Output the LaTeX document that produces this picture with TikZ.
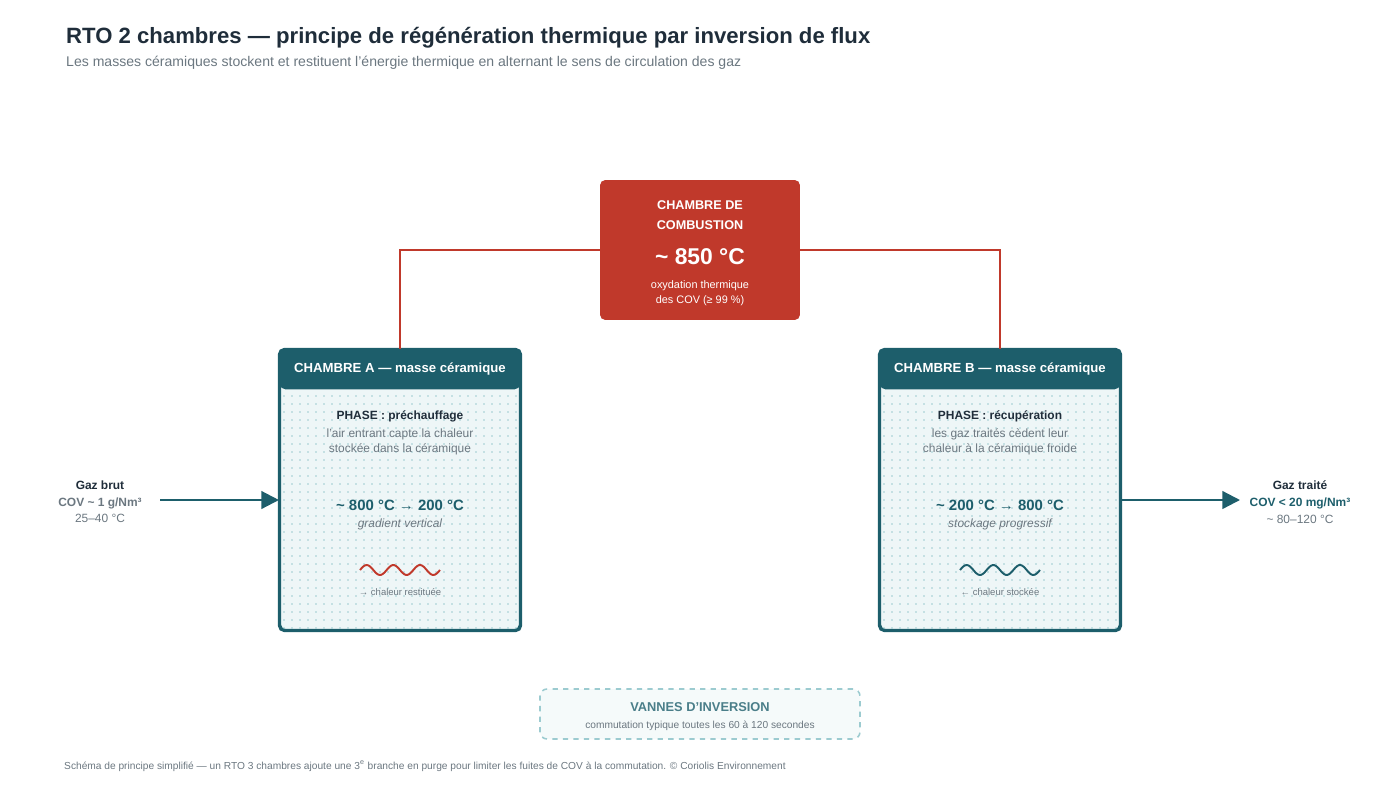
\documentclass[tikz,border=0pt]{standalone}
\usepackage{fontspec}
\setmainfont{Liberation Sans}
\usetikzlibrary{arrows.meta,positioning,calc}
\definecolor{teal}{HTML}{1D5E6B}
\definecolor{fire}{HTML}{C0392B}
\definecolor{ink}{HTML}{1F2D3A}
\definecolor{grey}{HTML}{6B7780}
\definecolor{dotc}{HTML}{9CCBD0}
\definecolor{pale}{HTML}{EEF6F7}
\tikzset{
  chamber/.style={draw=teal, line width=1.2pt, fill=pale, rounded corners=3pt,
  minimum width=4.8cm, minimum height=5.6cm},
  header/.style={fill=teal, text=white, font=\bfseries\fontsize{7.5}{9}\selectfont,
  minimum width=4.8cm, minimum height=0.8cm, rounded corners=3pt},
  small/.style={font=\fontsize{6.8}{8.8}\selectfont, text=grey, align=center},
  flow/.style={draw=teal, line width=1.3pt, -{Triangle[length=10pt,width=10pt]}},
  duct/.style={draw=fire, line width=1.1pt}}
\begin{document}
\begin{tikzpicture}[x=0.02cm,y=-0.02cm]
\useasboundingbox (0,0) rectangle (1400,788);

% titre
\node[anchor=west, text=ink, font=\bfseries\fontsize{12.6}{15}\selectfont] (title) at (60,38)
 {RTO 2 chambres — principe de régénération thermique par inversion de flux};
\node[anchor=west, text=grey, font=\fontsize{8}{10}\selectfont] (subtitle) at (60,63)
 {Les masses céramiques stockent et restituent l'énergie thermique en alternant le sens de circulation des gaz};

% combustion
\node[fill=fire, rounded corners=3pt, minimum width=4cm, minimum height=2.8cm] (comb) at (700,250) {};
\node[text=white, font=\bfseries\fontsize{7.2}{11.5}\selectfont, align=center] (combt) at (700,215) {CHAMBRE DE\\COMBUSTION};
\node[text=white, font=\bfseries\fontsize{13}{15}\selectfont] (combT) at (700,257) {\textasciitilde\ 850 °C};
\node[text=white, font=\fontsize{6.2}{8.5}\selectfont, align=center] (combs) at (700,293) {oxydation thermique\\des COV (≥ 99 \%)};

% chambres
\foreach \n/\cx in {A/400,B/1000}{
  \node[chamber] (ch\n) at (\cx,490) {};
  \foreach \i in {0,...,29}
    \foreach \j in {0,...,29}
      \fill[dotc] (\cx-116+\i*8,396+\j*8) circle (0.9);
  \draw[teal, line width=1.2pt, rounded corners=3pt] (ch\n.north west) rectangle (ch\n.south east);
  \node[header, anchor=north] (hd\n) at (ch\n.north) {CHAMBRE \n\ — masse céramique};
}

% textes chambre A
\node[text=ink, font=\bfseries\fontsize{6.8}{8}\selectfont] (phA) at (400,416) {PHASE : préchauffage};
\node[small] (dsA) at (400,442) {l'air entrant capte la chaleur\\stockée dans la céramique};
\node[text=teal, font=\bfseries\fontsize{8.5}{10}\selectfont] (tA) at (400,505) {\textasciitilde\ 800 °C → 200 °C};
\node[small, font=\itshape\fontsize{6.8}{8}\selectfont] (gA) at (400,524) {gradient vertical};
\draw[fire, line width=1.1pt, domain=0:80, samples=50] plot ({360+\x},{570-5*sin(\x*9*1.5)});
\node[small, font=\fontsize{5.4}{6}\selectfont] (rA) at (400,592) {→ chaleur restituée};

% textes chambre B
\node[text=ink, font=\bfseries\fontsize{6.8}{8}\selectfont] (phB) at (1000,416) {PHASE : récupération};
\node[small] (dsB) at (1000,442) {les gaz traités cèdent leur\\chaleur à la céramique froide};
\node[text=teal, font=\bfseries\fontsize{8.5}{10}\selectfont] (tB) at (1000,505) {\textasciitilde\ 200 °C → 800 °C};
\node[small, font=\itshape\fontsize{6.8}{8}\selectfont] (gB) at (1000,524) {stockage progressif};
\draw[teal, line width=1.1pt, domain=0:80, samples=50] plot ({960+\x},{570-5*sin(\x*9*1.5)});
\node[small, font=\fontsize{5.4}{6}\selectfont] (rB) at (1000,592) {← chaleur stockée};

% conduits
\draw[duct] (comb.west) -| (hdA.north);
\draw[duct] (comb.east) -| (hdB.north);

% entrée / sortie
\node[align=center, font=\fontsize{6.8}{9.5}\selectfont, text=grey] (gin) at (100,502)
 {\textcolor{ink}{\bfseries Gaz brut}\\\textbf{COV \textasciitilde\ 1 g/Nm³}\\25–40 °C};
\node[align=center, font=\fontsize{6.8}{9.5}\selectfont, text=grey] (gout) at (1300,502)
 {\textcolor{ink}{\bfseries Gaz traité}\\\textbf{\textcolor{teal}{COV < 20 mg/Nm³}}\\\textasciitilde\ 80–120 °C};
\coordinate (inA) at (160,500);
\coordinate (outB) at (1240,500);
\draw[flow] (inA) -- (chA.west |- inA);
\draw[flow] (chB.east |- outB) -- (outB);

% vannes
\node[draw=dotc, dashed, line width=0.9pt, fill=pale!60, rounded corners=4pt,
 minimum width=6.4cm, minimum height=1cm] (vannes) at (700,714) {};
\node[text=teal!80, font=\bfseries\fontsize{7.3}{9}\selectfont] (vt) at (700,707) {VANNES D'INVERSION};
\node[small, font=\fontsize{5.8}{7}\selectfont] (vs) at (700,726) {commutation typique toutes les 60 à 120 secondes};

% pied
\node[anchor=west, text=grey, font=\fontsize{5.8}{7}\selectfont] (foot) at (58,766)
 {Schéma de principe simplifié — un RTO 3 chambres ajoute une 3\textsuperscript{e} branche en purge pour limiter les fuites de COV à la commutation. © Coriolis Environnement};
\end{tikzpicture}
\end{document}
